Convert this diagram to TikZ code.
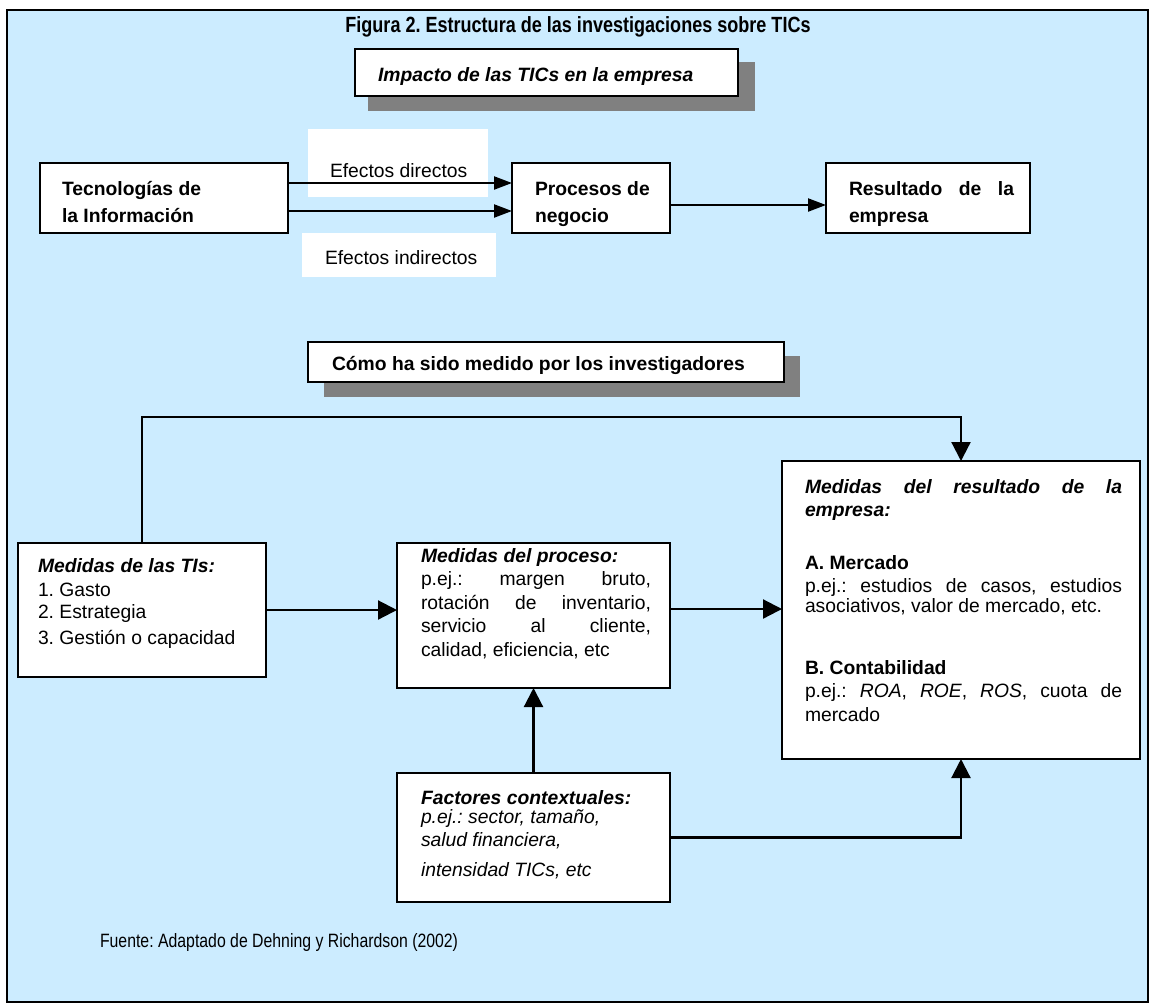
\documentclass[tikz,border=0pt]{standalone}
\usepackage{fontspec}
\usepackage{graphicx}
\setmainfont{Liberation Sans}
\usetikzlibrary{arrows.meta}
\definecolor{bgblue}{HTML}{CCECFF}
\definecolor{shadowgrey}{HTML}{808080}
\newcommand\fz[2]{\fontsize{#1}{#2}\selectfont}
\newcommand\jline[2]{\makebox[#1][s]{#2}}
\newcommand\tb[3]{\parbox[t]{#1}{\fz{19.3}{#2}#3}}
\newcommand\narrow[1]{\scalebox{0.82}[1]{#1}}
\frenchspacing
\begin{document}
\begin{tikzpicture}[x=1pt,y=-1pt,
 boxnode/.style={draw=black,line width=2.2pt,fill=white,rectangle,inner sep=0pt,outer sep=0pt,anchor=north west},
 whitepatch/.style={fill=white,draw=none,rectangle,inner sep=0pt,outer sep=0pt,anchor=north west},
 shade/.style={fill=shadowgrey},
 txt/.style={inner sep=0pt,outer sep=0pt,anchor=base west},
 conn/.style={line width=2.2pt},
 arr/.style={conn,-{Triangle[length=18pt,width=13pt]}},
 bigarr/.style={conn,-{Triangle[length=19pt,width=19pt]}}]
\useasboundingbox (0,0) rectangle (1151,1005);
\draw[line width=2pt,fill=bgblue] (7,10) rectangle (1148,1002);

% title
\node[txt,anchor=base] (title) at (578,32) {\narrow{\fz{22}{26}\bfseries Figura 2. Estructura de las investigaciones sobre TICs}};

% impacto header
\fill[shade] (368,62) rectangle (755,111);
\node[boxnode,minimum width=383pt,minimum height=47pt] (impacto) at (355,49) {};
\node[txt] (impactot) at (378,81) {\fz{19.3}{23}\bfseries\itshape Impacto de las TICs en la empresa};

% effect labels
\node[whitepatch,minimum width=180pt,minimum height=68pt] (dirbg) at (308,129) {};
\node[txt] (dirt) at (330,177) {\fz{19.3}{23}Efectos directos};
\node[whitepatch,minimum width=194pt,minimum height=44pt] (indbg) at (302,233) {};
\node[txt] (indt) at (325,264) {\fz{19.3}{23}Efectos indirectos};

% top row
\node[boxnode,minimum width=248pt,minimum height=70pt] (tec) at (40,163) {};
\node[txt] (tect) at (62,195) {\tb{220pt}{27pt}{\bfseries Tecnologías de\\la Información}};
\node[boxnode,minimum width=158pt,minimum height=70pt] (proc) at (512,163) {};
\node[txt] (proct) at (535,195) {\tb{130pt}{27pt}{\bfseries Procesos de\\negocio}};
\node[boxnode,minimum width=204pt,minimum height=70pt] (resu) at (826,163) {};
\node[txt] (resut) at (849,195) {\tb{165pt}{27pt}{\bfseries\jline{165pt}{Resultado de la}\\empresa}};

\draw[arr] ([yshift=15pt]tec.east) -- ([yshift=15pt]proc.west);
\draw[arr] ([yshift=-13pt]tec.east) -- ([yshift=-13pt]proc.west);
\draw[arr] ([yshift=-7pt]proc.east) -- ([yshift=-7pt]resu.west);

% como header
\fill[shade] (324,356) rectangle (800,397);
\node[boxnode,minimum width=476pt,minimum height=40pt] (como) at (308,342) {};
\node[txt] (comot) at (332,370) {\fz{19.3}{23}\bfseries Cómo ha sido medido por los investigadores};

% bottom boxes
\node[boxnode,minimum width=248pt,minimum height=134pt] (tis) at (18,543) {};
\node[txt] (tist) at (38,572) {\tb{225pt}{22pt}{{\bfseries\itshape Medidas de las TIs:}\\[2pt]1. Gasto\\2. Estrategia\\[4pt]3. Gestión o capacidad}};

\node[boxnode,minimum width=273pt,minimum height=145pt] (mproc) at (397,543) {};
\node[txt] (mproct) at (421,562) {\tb{230pt}{23.5pt}{{\bfseries\itshape Medidas del proceso:}\\\jline{230pt}{p.ej.: margen bruto,}\\\jline{230pt}{rotación de inventario,}\\\jline{230pt}{servicio al cliente,}\\[0.5pt]calidad, eficiencia, etc}};

\node[boxnode,minimum width=358pt,minimum height=298pt] (res) at (782,461) {};
\node[txt] (rest) at (805,493) {\tb{317pt}{23pt}{\jline{317pt}{\bfseries\itshape Medidas del resultado de la}\\{\bfseries\itshape empresa:}\\[30pt]{\bfseries A. Mercado}\\\jline{317pt}{p.ej.: estudios de casos, estudios}\\[-3pt]asociativos, valor de mercado, etc.\\[39pt]{\bfseries B. Contabilidad}\\\jline{317pt}{p.ej.: \textit{ROA}, \textit{ROE}, \textit{ROS}, cuota de}\\[1pt]mercado}};

\node[boxnode,minimum width=273pt,minimum height=129pt] (fac) at (397,773) {};
\node[txt] (fact) at (421,804) {\tb{240pt}{19pt}{{\bfseries\itshape Factores contextuales:}\\\textit{p.ej.: sector, tamaño,}\\[4pt]\textit{salud financiera,}\\[11pt]\textit{intensidad TICs, etc}}};

\node[txt] (fuente) at (100,947) {\narrow{\fz{19.3}{23}Fuente: Adaptado de Dehning y Richardson (2002)}};

% connectors
\coordinate (topline) at (0,417);
\coordinate (midrow) at (0,609);
\draw[bigarr] (tis.north) -- (tis.north |- topline) -| (res.north);
\draw[bigarr] (tis.east) -- (tis.east -| mproc.west);
\draw[bigarr] (mproc.east |- midrow) -- (res.west |- midrow);
\draw[bigarr] (fac.north) -- (mproc.south);
\draw[bigarr] (fac.east) -| (res.south);
\end{tikzpicture}
\end{document}
